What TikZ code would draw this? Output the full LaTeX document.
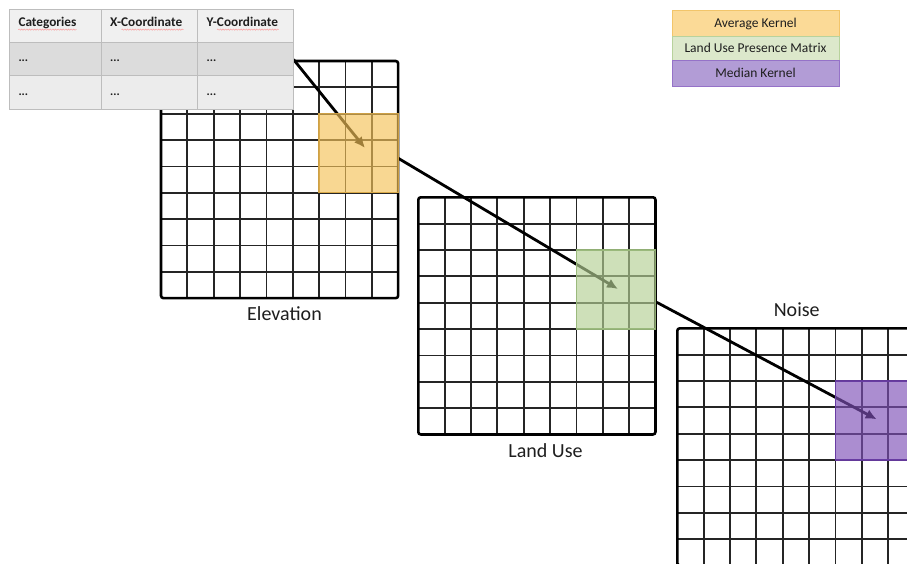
\documentclass[tikz,border=0pt]{standalone}
\usepackage{fontspec}
\setmainfont{Carlito}
\usetikzlibrary{arrows.meta,decorations.pathmorphing}
\definecolor{inkc}{HTML}{1E1E1E}
\definecolor{gridc}{HTML}{252525}
\definecolor{kyel}{HTML}{F5C258}
\definecolor{kyeld}{HTML}{E0AE4A}
\definecolor{kgrn}{HTML}{B5D095}
\definecolor{kgrnd}{HTML}{9DBE7E}
\definecolor{kpur}{HTML}{7F50B8}
\definecolor{kpurd}{HTML}{6A3CA6}
\definecolor{lyel}{HTML}{FBDA97}
\definecolor{lyeld}{HTML}{F2C56A}
\definecolor{lgrn}{HTML}{DCE8CB}
\definecolor{lgrnd}{HTML}{B8D29C}
\definecolor{lpur}{HTML}{B29CD6}
\definecolor{lpurd}{HTML}{9572C8}
\definecolor{thead}{HTML}{F0F0F0}
\definecolor{trowa}{HTML}{DCDCDC}
\definecolor{trowb}{HTML}{ECECEC}
\definecolor{tline}{HTML}{BDBDBD}
\newcommand\cellsz{26.35}
\newcommand\drawgridat[2]{%
  \foreach \i in {1,...,8}{
    \draw[gridline] ({#1+\i*\cellsz},#2) -- ({#1+\i*\cellsz},{#2+9*\cellsz});
    \draw[gridline] (#1,{#2+\i*\cellsz}) -- ({#1+9*\cellsz},{#2+\i*\cellsz});
  }
  \draw[gridframe] (#1,#2) rectangle ({#1+9*\cellsz},{#2+9*\cellsz});
}
\tikzset{
  gridline/.style={draw=gridc, line width=1.8pt},
  gridframe/.style={draw=black, line width=2.6pt, rounded corners=2.5pt},
  kernel/.style={rectangle, inner sep=0pt, outer sep=0pt, minimum width=3*\cellsz pt, minimum height=3*\cellsz pt, anchor=north west, fill opacity=0.65, draw opacity=0.9, line width=1.3pt},
  arr/.style={draw=black, line width=2.8pt, -{Latex[length=11pt,width=10pt]}},
  tcell/.style={rectangle, draw=tline, line width=0.8pt, inner sep=0pt, outer sep=0pt, anchor=north west},
  thtext/.style={anchor=base west, inner sep=0pt, text=inkc, font=\fontsize{13.3}{16}\selectfont\bfseries},
  tdtext/.style={anchor=base west, inner sep=0pt, text=inkc, font=\fontsize{12}{14}\selectfont\bfseries},
  legbox/.style={rectangle, line width=1pt, inner sep=0pt, outer sep=0pt, anchor=north west, minimum width=167pt},
  legtext/.style={anchor=base, inner sep=0pt, text=inkc, font=\fontsize{13.5}{16}\selectfont},
  lbl/.style={anchor=base, inner sep=0pt, text=inkc, font=\fontsize{20}{24}\selectfont},
  squig/.style={draw=red!60!white, draw opacity=0.6, line width=0.5pt, decorate, decoration={snake, amplitude=0.6pt, segment length=2.6pt}},
}
\begin{document}
\begin{tikzpicture}[x=1pt,y=-1pt]
\useasboundingbox (0,0) rectangle (907,563);
\fill[white] (0,0) rectangle (907,563);
\begin{scope}
\clip (0,0) rectangle (907,563);
% grids
\drawgridat{161}{61}
\drawgridat{418.3}{197.3}
\drawgridat{677.3}{328.3}
% connectors
\coordinate (s1) at (293.5,59.5);
\coordinate (t1) at (365,148);
\coordinate (s2) at (398.3,158.3);
\coordinate (t2) at (618,289);
\coordinate (s3) at (656.7,302.3);
\coordinate (t3) at (876.7,419.3);
\draw[arr] (s1) -- (t1);
\draw[arr] (s2) -- (t2);
\draw[arr] (s3) -- (t3);
% kernels
\node[kernel, fill=kyel, draw=kyeld] (kelev) at ({161+6*\cellsz},{61+2*\cellsz}) {};
\node[kernel, fill=kgrn, draw=kgrnd] (kland) at ({418.3+6*\cellsz},{197.3+2*\cellsz}) {};
\node[kernel, fill=kpur, draw=kpurd] (knoise) at ({677.3+6*\cellsz},{328.3+2*\cellsz}) {};
\end{scope}
% table
\node[tcell, fill=thead, minimum width=91.7pt, minimum height=33.3pt] (h1) at (9.8,9) {};
\node[tcell, fill=thead, minimum width=96pt, minimum height=33.3pt] (h2) at (101.5,9) {};
\node[tcell, fill=thead, minimum width=96pt, minimum height=33.3pt] (h3) at (197.5,9) {};
\node[tcell, fill=trowa, minimum width=91.7pt, minimum height=33.5pt] (a1) at (9.8,42.3) {};
\node[tcell, fill=trowa, minimum width=96pt, minimum height=33.5pt] (a2) at (101.5,42.3) {};
\node[tcell, fill=trowa, minimum width=96pt, minimum height=33.5pt] (a3) at (197.5,42.3) {};
\node[tcell, fill=trowb, minimum width=91.7pt, minimum height=33.3pt] (b1) at (9.8,75.8) {};
\node[tcell, fill=trowb, minimum width=96pt, minimum height=33.3pt] (b2) at (101.5,75.8) {};
\node[tcell, fill=trowb, minimum width=96pt, minimum height=33.3pt] (b3) at (197.5,75.8) {};
\node[thtext] (th1) at (18.3,26.5) {Categories};
\node[thtext] (th2) at (110,26.5) {X-Coordinate};
\node[thtext] (th3) at (206.5,26.5) {Y-Coordinate};
\draw[squig] (18.3,29.6) -- (76.5,29.6);
\draw[squig] (121.5,29.6) -- (183.5,29.6);
\draw[squig] (217,29.6) -- (278.5,29.6);
\node[tdtext] (d11) at (18.3,61.5) {...};
\node[tdtext] (d12) at (110,61.5) {...};
\node[tdtext] (d13) at (206.5,61.5) {...};
\node[tdtext] (d21) at (18.3,95) {...};
\node[tdtext] (d22) at (110,95) {...};
\node[tdtext] (d23) at (206.5,95) {...};
% legend
\node[legbox, fill=lyel, draw=lyeld, minimum height=26pt] (lg1) at (672,10) {};
\node[legbox, fill=lgrn, draw=lgrnd, minimum height=24.7pt] (lg2) at (672,36) {};
\node[legbox, fill=lpur, draw=lpurd, minimum height=25.3pt] (lg3) at (672,60.7) {};
\node[legtext] (lt1) at (755.5,27.3) {Average Kernel};
\node[legtext] (lt2) at (755.5,52.6) {Land Use Presence Matrix};
\node[legtext] (lt3) at (755.5,77.6) {Median Kernel};
% labels
\node[lbl] (lelev) at (284.5,320) {Elevation};
\node[lbl] (lland) at (545.5,457.3) {Land Use};
\node[lbl] (lnoise) at (796.7,316) {Noise};
\end{tikzpicture}
\end{document}
